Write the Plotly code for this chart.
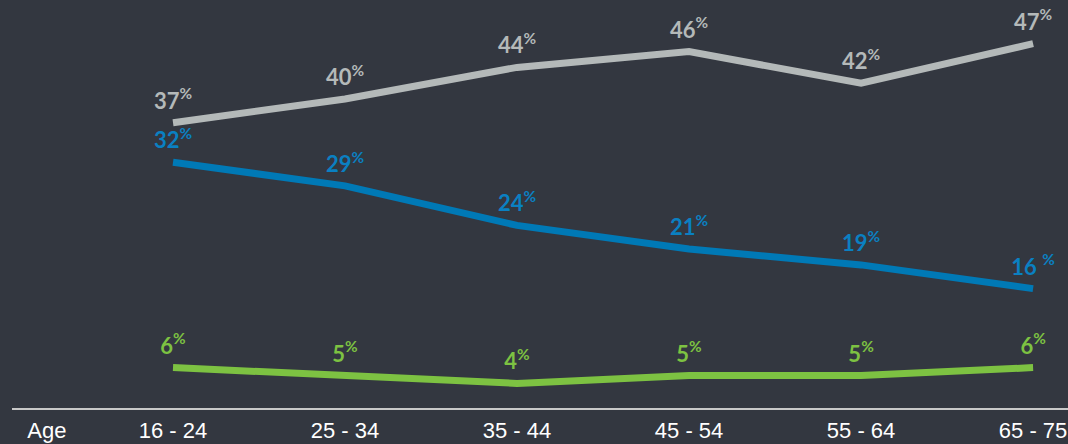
"""Share by age group, three series on a dark background."""

import plotly.graph_objects as go

ages = ["16 - 24", "25 - 34", "35 - 44", "45 - 54", "55 - 64", "65 - 75"]
axis_title = "Age"

grey_values = [37, 40, 44, 46, 42, 47]
blue_values = [32, 29, 24, 21, 19, 16]
green_values = [6, 5, 4, 5, 5, 6]

grey_labels = [f"{v}<sup>%</sup>" for v in grey_values]
blue_labels = [f"{v}<sup>%</sup>" for v in blue_values]
blue_labels[-1] = f"{blue_values[-1]} <sup>%</sup>"
green_labels = [f"{v}<sup>%</sup>" for v in green_values]

BG = "#333740"
series = [
    (grey_values, grey_labels, "#b4b9b9", "#b4b9b9"),
    (blue_values, blue_labels, "#0079b6", "#0a80c2"),
    (green_values, green_labels, "#7dc242", "#7dc242"),
]

x = list(range(len(ages)))

fig = go.Figure()
for values, labels, line_colour, text_colour in series:
    fig.add_trace(
        go.Scatter(
            x=x,
            y=values,
            mode="lines+markers+text",
            line=dict(color=line_colour, width=7),
            marker=dict(size=12, opacity=0, color=line_colour),
            text=labels,
            textposition="top center",
            textfont=dict(family="Lato", size=22, color=text_colour, weight="bold"),
            hoverinfo="skip",
            showlegend=False,
            cliponaxis=False,
        )
    )

fig.update_layout(
    width=1068,
    height=444,
    paper_bgcolor=BG,
    plot_bgcolor=BG,
    margin=dict(l=12, r=0, t=0, b=36),
    xaxis=dict(
        range=[-0.936, 5.203],
        tickvals=[-0.733] + x,
        ticktext=[axis_title] + ages,
        tickfont=dict(family="Liberation Sans", size=22, color="#ffffff"),
        showgrid=False,
        zeroline=False,
        showline=True,
        linecolor="#c8c8c8",
        linewidth=1.5,
        ticks="",
        ticklabelstandoff=2,
    ),
    yaxis=dict(
        range=[0.886, 52.53],
        visible=False,
        showgrid=False,
        zeroline=False,
    ),
)

# drop the page's default body margin so the chart fills the window
fig.write_html(
    "out.html",
    config={"displayModeBar": False},
    post_script="document.body.style.margin = '0';",
)
